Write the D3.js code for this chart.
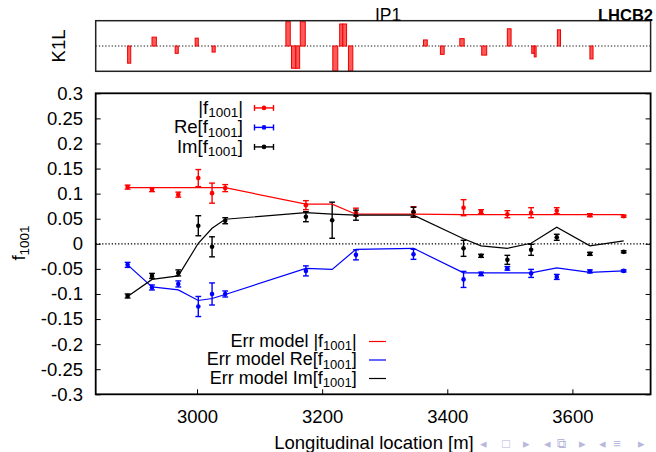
<!DOCTYPE html>
<html><head><meta charset="utf-8">
<script src="https://cdn.jsdelivr.net/npm/d3@7/dist/d3.min.js"></script>
<style>
body{margin:0;background:#fff}
svg{display:block}
text{font-family:"Liberation Sans",Arial,Helvetica,sans-serif}
</style>
</head><body>
<svg id="c" width="656" height="452"></svg>
<script>
// ---- data ----
const positions = [2889, 2928, 2970, 3002, 3024, 3045, 3174, 3216, 3254, 3346, 3426, 3454, 3496, 3534, 3575, 3628, 3682];
const absVal = [0.113, 0.108, 0.098, 0.131, 0.101, 0.111, 0.077, null, 0.063, 0.064, 0.072, 0.064, 0.059, 0.062, 0.066, 0.057, 0.055];
const absErr = [0.004, 0.004, 0.005, 0.017, 0.020, 0.007, 0.009, null, 0.008, 0.010, 0.016, 0.004, 0.007, 0.010, 0.006, 0.003, 0.002];
const reVal = [-0.042, -0.087, -0.080, -0.125, -0.100, -0.100, -0.054, null, -0.022, -0.021, -0.071, -0.060, -0.049, -0.059, -0.066, -0.055, -0.054];
const reErr = [0.005, 0.005, 0.006, 0.020, 0.022, 0.006, 0.010, null, 0.010, 0.010, 0.016, 0.0035, 0.0035, 0.008, 0.005, 0.003, 0.002];
const imVal = [-0.104, -0.064, -0.058, 0.036, -0.006, 0.046, 0.054, 0.047, 0.057, 0.063, -0.009, -0.024, -0.032, -0.012, 0.013, -0.020, -0.016];
const imErr = [0.004, 0.005, 0.006, 0.020, 0.020, 0.006, 0.010, 0.036, 0.010, 0.010, 0.016, 0.003, 0.009, 0.011, 0.006, 0.003, 0.002];
const absModel = [0.112, 0.112, 0.112, 0.112, 0.112, 0.112, 0.079, 0.079, 0.059, 0.059, 0.058, 0.058, 0.058, 0.058, 0.058, 0.058, 0.058];
const reModel = [-0.042, -0.086, -0.092, -0.113, -0.109, -0.101, -0.049, -0.051, -0.011, -0.009, -0.058, -0.058, -0.058, -0.058, -0.048, -0.057, -0.054];
const imModel = [-0.105, -0.071, -0.064, 0.001, 0.031, 0.049, 0.062, 0.059, 0.057, 0.057, 0.010, -0.004, -0.009, 0.001, 0.033, -0.004, 0.006];

const k1lStart = [2889, 2928, 2965, 2997, 3024, 3142, 3151, 3158, 3165, 3217, 3228, 3233, 3242, 3362, 3389, 3420, 3455, 3496, 3535, 3539, 3576, 3628];
const k1lEnd   = [2894, 2935, 2970, 3002, 3029, 3149, 3158, 3164, 3173, 3225, 3233, 3239, 3249, 3368, 3395, 3427, 3463, 3502, 3539, 3542, 3581, 3633];
const k1lVal   = [-0.68, 0.35, -0.29, 0.31, -0.24, 0.96, -0.88, -0.88, 0.96, -0.99, 0.87, 0.87, -0.99, 0.24, -0.33, 0.29, -0.36, 0.68, -0.29, -0.43, 0.64, -0.51];

const xTicks = [3000, 3200, 3400, 3600];
const yTicks = [-0.3, -0.25, -0.2, -0.15, -0.1, -0.05, 0, 0.05, 0.1, 0.15, 0.2, 0.25, 0.3];
const navSymbols = ["◂", "□", "▸", "◂", "⧉", "▸", "◂", "≡", "▸"];

// ---- layout ----
const svg = d3.select('#c');
const L = 95.7, R = 650.6, T = 93.3, B = 394.3;
const x = d3.scaleLinear().domain([2838, 3725]).range([L, R]);
const y = d3.scaleLinear().domain([-0.3, 0.3]).range([B, T]);
const yk = d3.scaleLinear().domain([-1, 1]).range([71.3, 20.7]);
const FS = 18.5, SUB = 13.5;

svg.append('rect').attr('width', 656).attr('height', 452).attr('fill', '#fff');

// ---- top K1L panel ----
const topG = svg.append('g');
topG.append('line').attr('x1', L).attr('x2', R).attr('y1', yk(0)).attr('y2', yk(0))
  .attr('stroke', '#000').attr('stroke-width', 1).attr('stroke-dasharray', '1.2,2');
topG.selectAll('rect.k').data(k1lVal).join('rect').attr('class', 'k')
  .attr('x', (d, i) => x(k1lStart[i]))
  .attr('width', (d, i) => x(k1lEnd[i]) - x(k1lStart[i]))
  .attr('y', d => Math.min(yk(d), yk(0)))
  .attr('height', d => Math.abs(yk(d) - yk(0)))
  .attr('fill', '#ff5a5a').attr('stroke', '#ee0000').attr('stroke-width', 1);
topG.append('rect').attr('x', L).attr('y', yk(1)).attr('width', R - L).attr('height', yk(-1) - yk(1))
  .attr('fill', 'none').attr('stroke', '#222').attr('stroke-width', 1.5);
topG.append('text').attr('transform', `translate(65,46) rotate(-90)`).attr('text-anchor', 'middle')
  .attr('font-size', FS).text('K1L');
topG.append('text').attr('x', 375).attr('y', 20.5).attr('font-size', 17.5).text('IP1');
topG.append('text').attr('x', 653).attr('y', 20.5).attr('text-anchor', 'end')
  .attr('font-size', 16.5).attr('font-weight', 'bold').text('LHCB2');

// ---- main axes ----
const fmt = v => String(+v.toFixed(2));
const gy = svg.append('g').attr('transform', `translate(${L},0)`)
  .call(d3.axisLeft(y).tickValues(yTicks).tickFormat(fmt).tickSize(-5).tickPadding(12.7));
const gyr = svg.append('g').attr('transform', `translate(${R},0)`)
  .call(d3.axisRight(y).tickValues(yTicks).tickFormat('').tickSize(-5));
const gx = svg.append('g').attr('transform', `translate(0,${B})`)
  .call(d3.axisBottom(x).tickValues(xTicks).tickFormat(d3.format('d')).tickSize(-5).tickPadding(15.4));
[gy, gyr, gx].forEach(g => {
  g.select('.domain').remove();
  g.selectAll('line').attr('stroke', '#000').attr('stroke-width', 1);
  g.selectAll('text').attr('font-size', FS).attr('fill', '#000')
    .attr('font-family', '"Liberation Sans",Arial,Helvetica,sans-serif');
});

// zero line
svg.append('line').attr('x1', L).attr('x2', R).attr('y1', y(0)).attr('y2', y(0))
  .attr('stroke', '#000').attr('stroke-width', 1.2).attr('stroke-dasharray', '1.3,1.9');

// ---- series ----
const series = [
  {val: absVal, err: absErr, model: absModel, color: '#ff0000'},
  {val: reVal, err: reErr, model: reModel, color: '#0000ff'},
  {val: imVal, err: imErr, model: imModel, color: '#000000'}
];
const cap = 2.9;
series.forEach(s => {
  const g = svg.append('g');
  const idx = d3.range(positions.length).filter(i => s.val[i] !== null);
  idx.forEach(i => {
    const px = x(positions[i]);
    const ya = y(s.val[i] - s.err[i]), yb = y(s.val[i] + s.err[i]);
    g.append('line').attr('x1', px).attr('x2', px).attr('y1', ya).attr('y2', yb)
      .attr('stroke', s.color).attr('stroke-width', 1.4);
    [ya, yb].forEach(yy => g.append('line').attr('x1', px - cap).attr('x2', px + cap)
      .attr('y1', yy).attr('y2', yy).attr('stroke', s.color).attr('stroke-width', 1.4));
    g.append('circle').attr('cx', px).attr('cy', y(s.val[i])).attr('r', 2.3).attr('fill', s.color);
  });
});
series.forEach(s => {
  const line = d3.line().x((d, i) => x(positions[i])).y(d => y(d));
  svg.append('path').attr('d', line(s.model)).attr('fill', 'none')
    .attr('stroke', s.color).attr('stroke-width', 1.2);
});

// frame
svg.append('rect').attr('x', L).attr('y', T).attr('width', R - L).attr('height', B - T)
  .attr('fill', 'none').attr('stroke', '#000').attr('stroke-width', 1.8);

// ---- legends ----
function subText(g, xr, yb, pre, post, fs, sub) {
  const t = g.append('text').attr('x', xr).attr('y', yb).attr('text-anchor', 'end').attr('font-size', fs);
  t.append('tspan').text(pre);
  t.append('tspan').attr('font-size', sub).attr('dy', 3.5).text('1001');
  t.append('tspan').attr('font-size', fs).attr('dy', -3.5).text(post);
}
const leg1 = [
  {pre: '|f', post: '|', color: '#ff0000'},
  {pre: 'Re[f', post: ']', color: '#0000ff'},
  {pre: 'Im[f', post: ']', color: '#000000'}
];
const lg1 = svg.append('g');
leg1.forEach((e, i) => {
  const yb = 113.5 + i * 19.5;
  subText(lg1, 243, yb, e.pre, e.post, FS, SUB);
  const ys = yb - 5.6;
  lg1.append('line').attr('x1', 254.5).attr('x2', 273.5).attr('y1', ys).attr('y2', ys)
    .attr('stroke', e.color).attr('stroke-width', 1.4);
  [254.5, 273.5].forEach(xx => lg1.append('line').attr('x1', xx).attr('x2', xx)
    .attr('y1', ys - 3).attr('y2', ys + 3).attr('stroke', e.color).attr('stroke-width', 1.4));
  lg1.append('circle').attr('cx', 264).attr('cy', ys).attr('r', 2.3).attr('fill', e.color);
});
const leg2 = [
  {pre: 'Err model |f', post: '|', color: '#ff0000'},
  {pre: 'Err model Re[f', post: ']', color: '#0000ff'},
  {pre: 'Err model Im[f', post: ']', color: '#000000'}
];
const lg2 = svg.append('g');
leg2.forEach((e, i) => {
  const yb = 346.5 + i * 18.5;
  subText(lg2, 356.7, yb, e.pre, e.post, 18, 13);
  lg2.append('line').attr('x1', 369).attr('x2', 386).attr('y1', yb - 5).attr('y2', yb - 5)
    .attr('stroke', e.color).attr('stroke-width', 1.2);
});

// axis titles
svg.append('text').attr('x', 374).attr('y', 449).attr('text-anchor', 'middle')
  .attr('font-size', FS).text('Longitudinal location [m]');
const yl = svg.append('text').attr('transform', 'translate(25,243) rotate(-90)')
  .attr('text-anchor', 'middle').attr('font-size', FS);
yl.append('tspan').text('f');
yl.append('tspan').attr('font-size', SUB).attr('dy', 4).text('1001');

// beamer navigation symbols
const navX = [483, 506, 526, 547, 561, 582, 602, 617, 641];
svg.append('g').selectAll('text').data(navSymbols).join('text')
  .attr('x', (d, i) => navX[i]).attr('y', 448).attr('text-anchor', 'middle')
  .attr('font-family', '"DejaVu Sans",sans-serif').attr('font-size', 13)
  .attr('fill', '#b8b8dc').text(d => d);
</script>
</body></html>
